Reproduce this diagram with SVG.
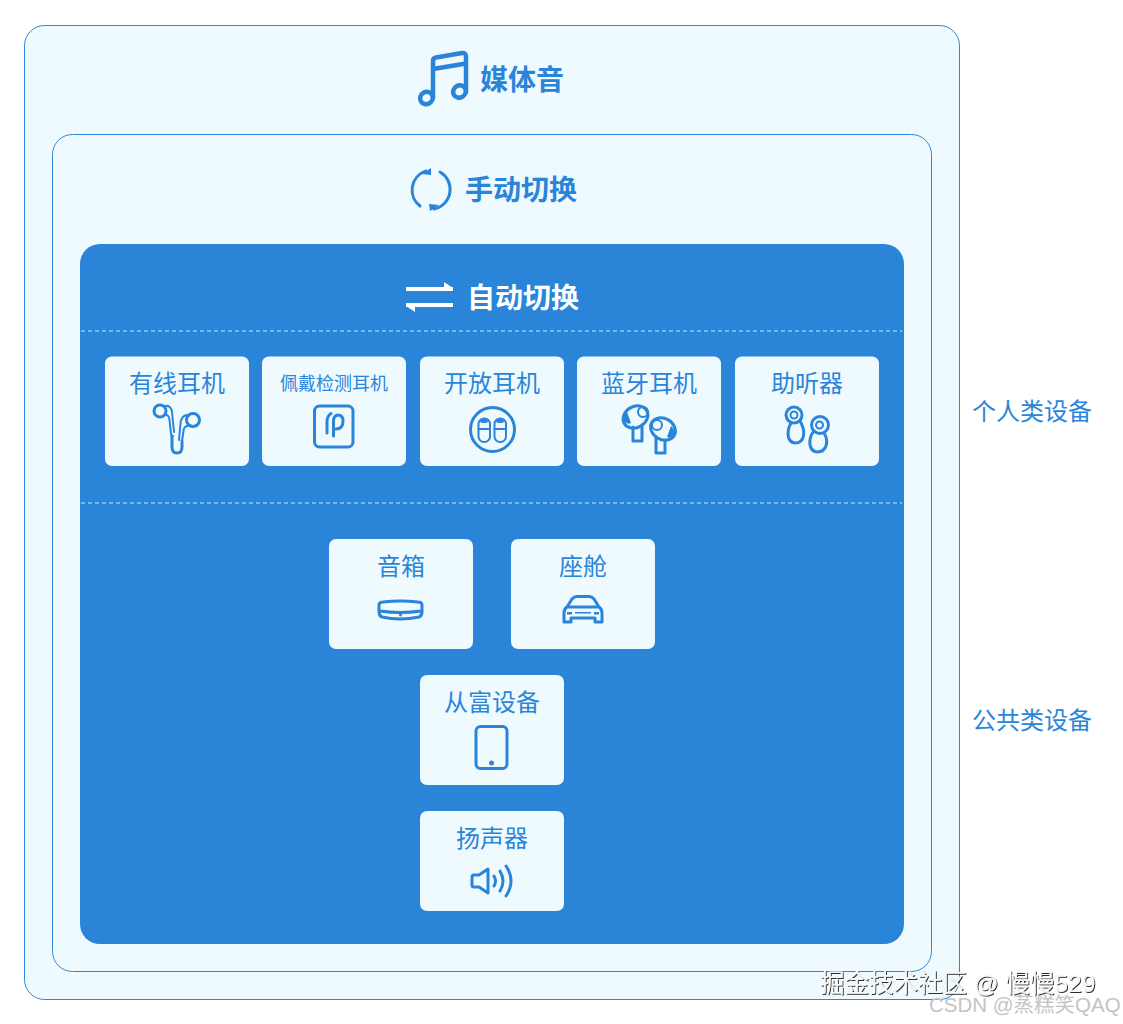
<svg xmlns="http://www.w3.org/2000/svg" width="1123" height="1024" viewBox="0 0 1123 1024">
<defs>
<filter id="wmShadow" x="-5%" y="-20%" width="110%" height="140%"><feDropShadow dx="1" dy="1" stdDeviation="0.5" flood-color="#222" flood-opacity="0.95"/></filter>
</defs>
<style>
text{font-family:"Liberation Sans","Noto Sans CJK SC",sans-serif}
.panel{fill:#effaff;stroke:#2f86d6;stroke-width:1}
.card{fill:#effaff}
.t{fill:#2a85d9;font-size:24px;text-anchor:middle}
.h{fill:#2a85d9;font-size:28px;font-weight:700}
.side{fill:#2a85d9;font-size:24px}
.i{fill:none;stroke:#2a85d9;stroke-width:3;stroke-linecap:round;stroke-linejoin:round}
.th{stroke-width:2}
.big{stroke-width:4.500}
.dash{stroke:#cfe8fb;stroke-width:1;stroke-dasharray:4 3;fill:none}
.wm{fill:#f8f8f8;font-size:24.500px;filter:url(#wmShadow)}
.wm2{fill:#c4c4c4;font-size:20.500px}
.f{fill:#2a85d9}
</style>
<rect width="1123" height="1024" fill="#fff"/>
<g id="media-panel">
<rect class="panel" x="24.500" y="25.500" width="935" height="974" rx="20"/>
<path class="i big" d="M433 98V61Q433 58 436 57.500L462 53Q466 52.500 466 56.500V92M433 69L466 63.500"/>
<ellipse class="i big" cx="426.500" cy="98" rx="6.500" ry="6" transform="rotate(-30 426.500 98)"/>
<ellipse class="i big" cx="459.500" cy="91.500" rx="6.500" ry="6" transform="rotate(-30 459.500 91.500)"/>
<text class="h" x="480" y="90">媒体音</text>
</g>
<g id="manual-panel">
<rect class="panel" x="52.500" y="134.500" width="879" height="837" rx="20"/>
<path class="i" d="M426 171A20 20 0 0 0 420 206M440 172A20 20 0 0 1 434 209"/>
<path class="f" d="M422 174L431 168L431 175ZM439 205L429 204L430 211Z"/>
<text class="h" x="465" y="200">手动切换</text>
</g>
<g id="auto-panel">
<rect x="80" y="244" width="824" height="700" rx="20" fill="#2a85d9"/>
<path fill="none" stroke="#fff" stroke-width="4" d="M406 289H453M406 305H453"/>
<path fill="#fff" d="M444 282L453 288V291H444ZM415 312L406 306V303H415Z"/>
<text class="h" x="467" y="308" style="fill:#fff">自动切换</text>
<path class="dash" d="M81 331H902M81 503H902"/>
</g>
<g id="card-wired">
<rect class="card" x="105" y="356.500" width="144" height="109.500" rx="7"/>
<text class="t" x="177" y="392">有线耳机</text>
<circle class="i" cx="160" cy="411" r="6"/><circle class="i" cx="193" cy="420" r="6.500"/>
<path class="i th" d="M165 406Q171 405 172 412L174 432M166 415Q169 415 169.500 420L171 434Q171 436 173 436"/>
<path class="i th" d="M188 415Q181 415 180.500 424L179 440M188 426Q184 426 183.500 431L182 441"/>
<path class="i" d="M182 441V447Q182 453 177 453Q172 453 172 447V436"/>
</g>
<g id="card-wear">
<rect class="card" x="262" y="356.500" width="144" height="109.500" rx="7"/>
<text class="t" x="334" y="390" style="font-size:18px">佩戴检测耳机</text>
<rect class="i" x="314.500" y="406" width="38.500" height="41" rx="5"/>
<path class="i" d="M333.500 436V421Q333.500 415.500 338 415Q343 415 343 421Q343 429 336 429M327 433V422Q327 416 331 413.500"/>
</g>
<g id="card-open">
<rect class="card" x="420" y="356.500" width="144" height="109.500" rx="7"/>
<text class="t" x="492" y="392">开放耳机</text>
<circle class="i" cx="492.500" cy="429.500" r="22"/>
<rect class="i th" x="478.500" y="418.500" width="11.500" height="23.500" rx="5.500"/>
<rect class="i th" x="494.500" y="418.500" width="11.500" height="23.500" rx="5.500"/>
<path class="i th" d="M478.500 429H490M494.500 429H506"/>
<ellipse class="f" cx="484" cy="421" rx="4" ry="2"/><ellipse class="f" cx="500" cy="421" rx="4" ry="2"/>
</g>
<g id="card-bt">
<rect class="card" x="577" y="356.500" width="144" height="109.500" rx="7"/>
<text class="t" x="649" y="392">蓝牙耳机</text>
<path class="i" d="M633 427V441H642V425"/>
<ellipse class="i" cx="635.500" cy="417" rx="13" ry="10.500" transform="rotate(-30 635.500 417)"/><circle class="i th" cx="643" cy="412" r="5"/>
<path class="f" d="M624 421Q623 415 627 412L631 423Q627 425 624 421Z"/>
<path class="i" d="M656 438V453H665V440"/>
<ellipse class="i" cx="663" cy="429" rx="13" ry="10.500" transform="rotate(30 663 429)"/><circle class="i th" cx="657" cy="425" r="5"/>
<path class="f" d="M674 435Q675 429 671 426L667 437Q671 439 674 435Z"/>
</g>
<g id="card-aid">
<rect class="card" x="735" y="356.500" width="144" height="109.500" rx="7"/>
<text class="t" x="807" y="392">助听器</text>
<circle class="i" cx="794" cy="415" r="8"/>
<path class="i" d="M791 423C787 430 786 442 795 443C805 443 806 431 800 421"/>
<circle class="i th" cx="794" cy="415" r="3.500"/>
<circle class="i" cx="820" cy="425" r="8.500"/>
<path class="i" d="M814 431C808 438 808 451 817 452C827 452 829 441 824 433"/>
<circle class="i th" cx="819.500" cy="425" r="3.500"/>
</g>
<g id="card-speaker">
<rect class="card" x="329" y="539" width="144" height="110" rx="7"/>
<text class="t" x="401" y="575">音箱</text>
<path class="i" d="M379 605Q379 602 383 602Q400 600 418 602Q422 602 422 605V612Q422 616 419 617Q400 621 382 617Q379 616 379 612ZM380 611Q400 614 421 611"/>
<circle class="f" cx="400.500" cy="615" r="1.500"/>
</g>
<g id="card-cabin">
<rect class="card" x="511" y="539" width="144" height="110" rx="7"/>
<text class="t" x="583" y="575">座舱</text>
<path class="i" d="M564 622V613Q564 609 567 607L572 599Q574 596.500 577 596.500H589Q592 596.500 594 599L599 607Q602 609 602 613V622H595V618H571V622ZM567 607H599"/>
<path class="f" d="M567 612h5v2.500h-5zM594 612h5v2.500h-5zM575 612h16v1.500h-16z"/>
</g>
<g id="card-rich">
<rect class="card" x="420" y="675" width="144" height="110" rx="7"/>
<text class="t" x="492" y="711">从富设备</text>
<rect class="i" x="476" y="726.500" width="31" height="42" rx="4.500"/>
<circle class="f" cx="491.500" cy="763" r="2.500"/>
</g>
<g id="card-loud">
<rect class="card" x="420" y="811" width="144" height="100" rx="7"/>
<text class="t" x="492" y="847">扬声器</text>
<path class="i" d="M472 877Q472 875 474 875H479L488 869V893L479 887H474Q472 887 472 885Z"/>
<path class="i" d="M494 876Q497 881 494 886M500 871Q506 881 500 891M506 866Q516 881 506 896"/>
</g>
<g id="labels">
<text class="side" x="972" y="420">个人类设备</text>
<text class="side" x="972" y="729">公共类设备</text>
</g>
<g id="watermarks">
<text class="wm2" x="929" y="1012">CSDN @蒸糕笑QAQ</text>
<text class="wm" x="820" y="992">掘金技术社区 @ 慢慢529</text>
</g>
</svg>
